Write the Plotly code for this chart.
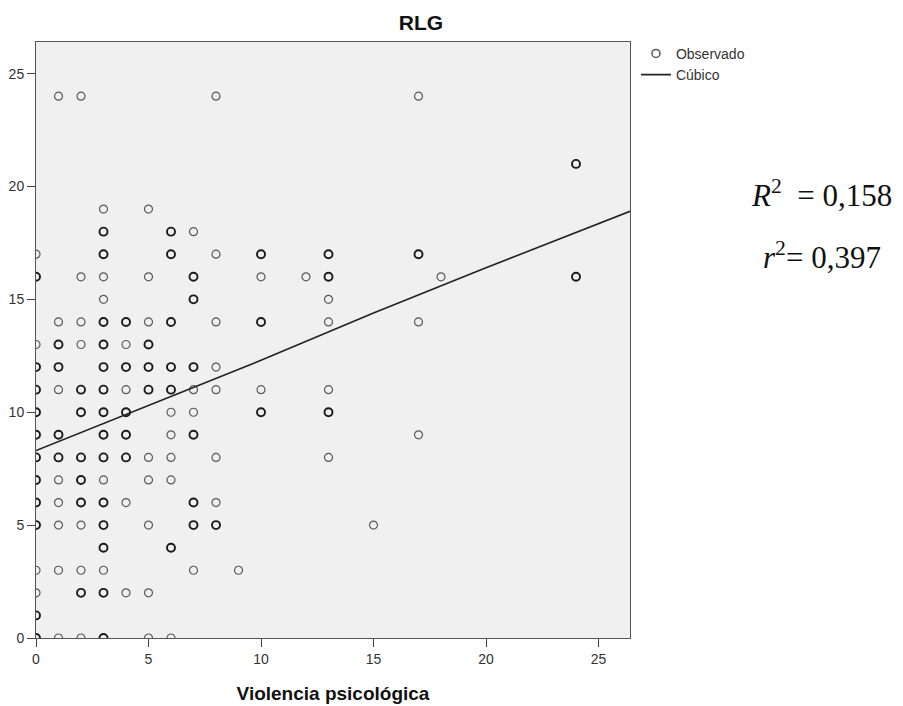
import plotly.graph_objects as go

# Observed points (x = Violencia psicológica, y = RLG) and darkness flag (overlapping cases)
obs_x = [1, 2, 8, 17,
         24,
         3, 5,
         3, 6, 7,
         0, 3, 6, 8, 10, 13, 17,
         0, 2, 3, 5, 7, 10, 12, 13, 18, 24,
         3, 7, 13,
         1, 2, 3, 4, 5, 6, 8, 10, 13, 17,
         0, 1, 2, 3, 4, 5,
         0, 1, 3, 4, 5, 6, 7, 8,
         0, 1, 2, 3, 4, 5, 6, 7, 8, 10, 13,
         0, 2, 3, 4, 6, 7, 10, 13,
         0, 1, 3, 4, 6, 7, 17,
         0, 1, 2, 3, 4, 5, 6, 8, 13,
         0, 1, 2, 3, 5, 6,
         0, 1, 2, 3, 4, 7, 8,
         0, 1, 2, 3, 5, 7, 8, 15,
         3, 6,
         0, 1, 2, 3, 7, 9,
         0, 2, 3, 4, 5,
         0,
         0, 1, 2, 3, 5, 6]
obs_y = [24, 24, 24, 24,
         21,
         19, 19,
         18, 18, 18,
         17, 17, 17, 17, 17, 17, 17,
         16, 16, 16, 16, 16, 16, 16, 16, 16, 16,
         15, 15, 15,
         14, 14, 14, 14, 14, 14, 14, 14, 14, 14,
         13, 13, 13, 13, 13, 13,
         12, 12, 12, 12, 12, 12, 12, 12,
         11, 11, 11, 11, 11, 11, 11, 11, 11, 11, 11,
         10, 10, 10, 10, 10, 10, 10, 10,
         9, 9, 9, 9, 9, 9, 9,
         8, 8, 8, 8, 8, 8, 8, 8, 8,
         7, 7, 7, 7, 7, 7,
         6, 6, 6, 6, 6, 6, 6,
         5, 5, 5, 5, 5, 5, 5, 5,
         4, 4,
         3, 3, 3, 3, 3, 3,
         2, 2, 2, 2, 2,
         1,
         0, 0, 0, 0, 0, 0]
obs_dark = [0, 0, 0, 0,
            1,
            0, 0,
            1, 1, 0,
            0, 1, 1, 0, 1, 1, 1,
            1, 0, 0, 0, 1, 0, 0, 1, 0, 1,
            0, 1, 0,
            0, 0, 1, 1, 0, 1, 0, 1, 0, 0,
            0, 1, 0, 1, 0, 1,
            1, 1, 1, 1, 1, 1, 1, 0,
            1, 0, 1, 1, 0, 1, 1, 0, 0, 0, 0,
            1, 1, 1, 1, 0, 0, 1, 1,
            1, 1, 1, 1, 0, 1, 0,
            1, 1, 1, 1, 1, 0, 0, 0, 0,
            1, 0, 1, 0, 0, 0,
            1, 0, 1, 1, 0, 1, 0,
            1, 0, 0, 1, 0, 1, 1, 0,
            1, 1,
            0, 0, 0, 0, 0, 0,
            0, 1, 1, 0, 0,
            1,
            1, 0, 0, 1, 0, 0]

# Fitted curve ("Cúbico")
fit_x = [0, 5, 10, 15, 20, 26.4]
fit_y = [8.3, 10.3, 12.3, 14.4, 16.4, 18.9]

x_ticks = [0, 5, 10, 15, 20, 25]
y_ticks = [0, 5, 10, 15, 20, 25]

colors = ["#1a1a1a" if d else "#5a5a5a" for d in obs_dark]
widths = [1.9 if d else 1.2 for d in obs_dark]

fig = go.Figure()
fig.add_trace(go.Scatter(
    x=obs_x, y=obs_y, mode="markers", name="Observado",
    marker=dict(symbol="circle-open", size=8, color=colors,
                line=dict(width=widths, color=colors)),
    cliponaxis=True,
))
fig.add_trace(go.Scatter(
    x=fit_x, y=fit_y, mode="lines", name="Cúbico",
    line=dict(color="#222222", width=1.6),
))

axis_common = dict(
    showline=True, linecolor="#555555", linewidth=1, mirror=True,
    ticks="outside", ticklen=8, tickcolor="#444444", tickwidth=1,
    showgrid=False, zeroline=False, automargin=False,
    tickfont=dict(family="Liberation Sans, Arial", size=14, color="#333333"),
)

fig.update_layout(
    width=903, height=706,
    margin=dict(l=28, r=281, t=34, b=76, autoexpand=False),
    paper_bgcolor="white", plot_bgcolor="#f0f0f0",
    font=dict(family="Liberation Sans, Arial", color="#222222"),
    title=dict(text="<b>RLG</b>", x=413 / 903, xanchor="center",
               y=1 - 15 / 706, yanchor="middle",
               font=dict(size=21, color="#111111")),
    xaxis=dict(range=[0, 26.4], tickvals=x_ticks,
               title=dict(text="<b>Violencia psicológica</b>",
                          font=dict(size=19, color="#111111"), standoff=20),
               **axis_common),
    yaxis=dict(range=[0, 26.4], tickvals=y_ticks, **axis_common),
    showlegend=True,
    legend=dict(x=1.01, y=1.007, xanchor="left", yanchor="top",
                font=dict(size=14, color="#333333"),
                bgcolor="rgba(0,0,0,0)", itemwidth=30, tracegroupgap=0),
    annotations=[
        dict(text="<i>R</i><sup>2</sup>  = 0,158", xref="paper", yref="paper",
             x=1.323, y=0.745, xanchor="center", yanchor="middle", showarrow=False,
             font=dict(family="Liberation Serif, Times New Roman", size=31, color="#111111")),
        dict(text="<i>r</i><sup>2</sup>= 0,397", xref="paper", yref="paper",
             x=1.323, y=0.641, xanchor="center", yanchor="middle", showarrow=False,
             font=dict(family="Liberation Serif, Times New Roman", size=31, color="#111111")),
    ],
)

fig.write_html("out.html")
